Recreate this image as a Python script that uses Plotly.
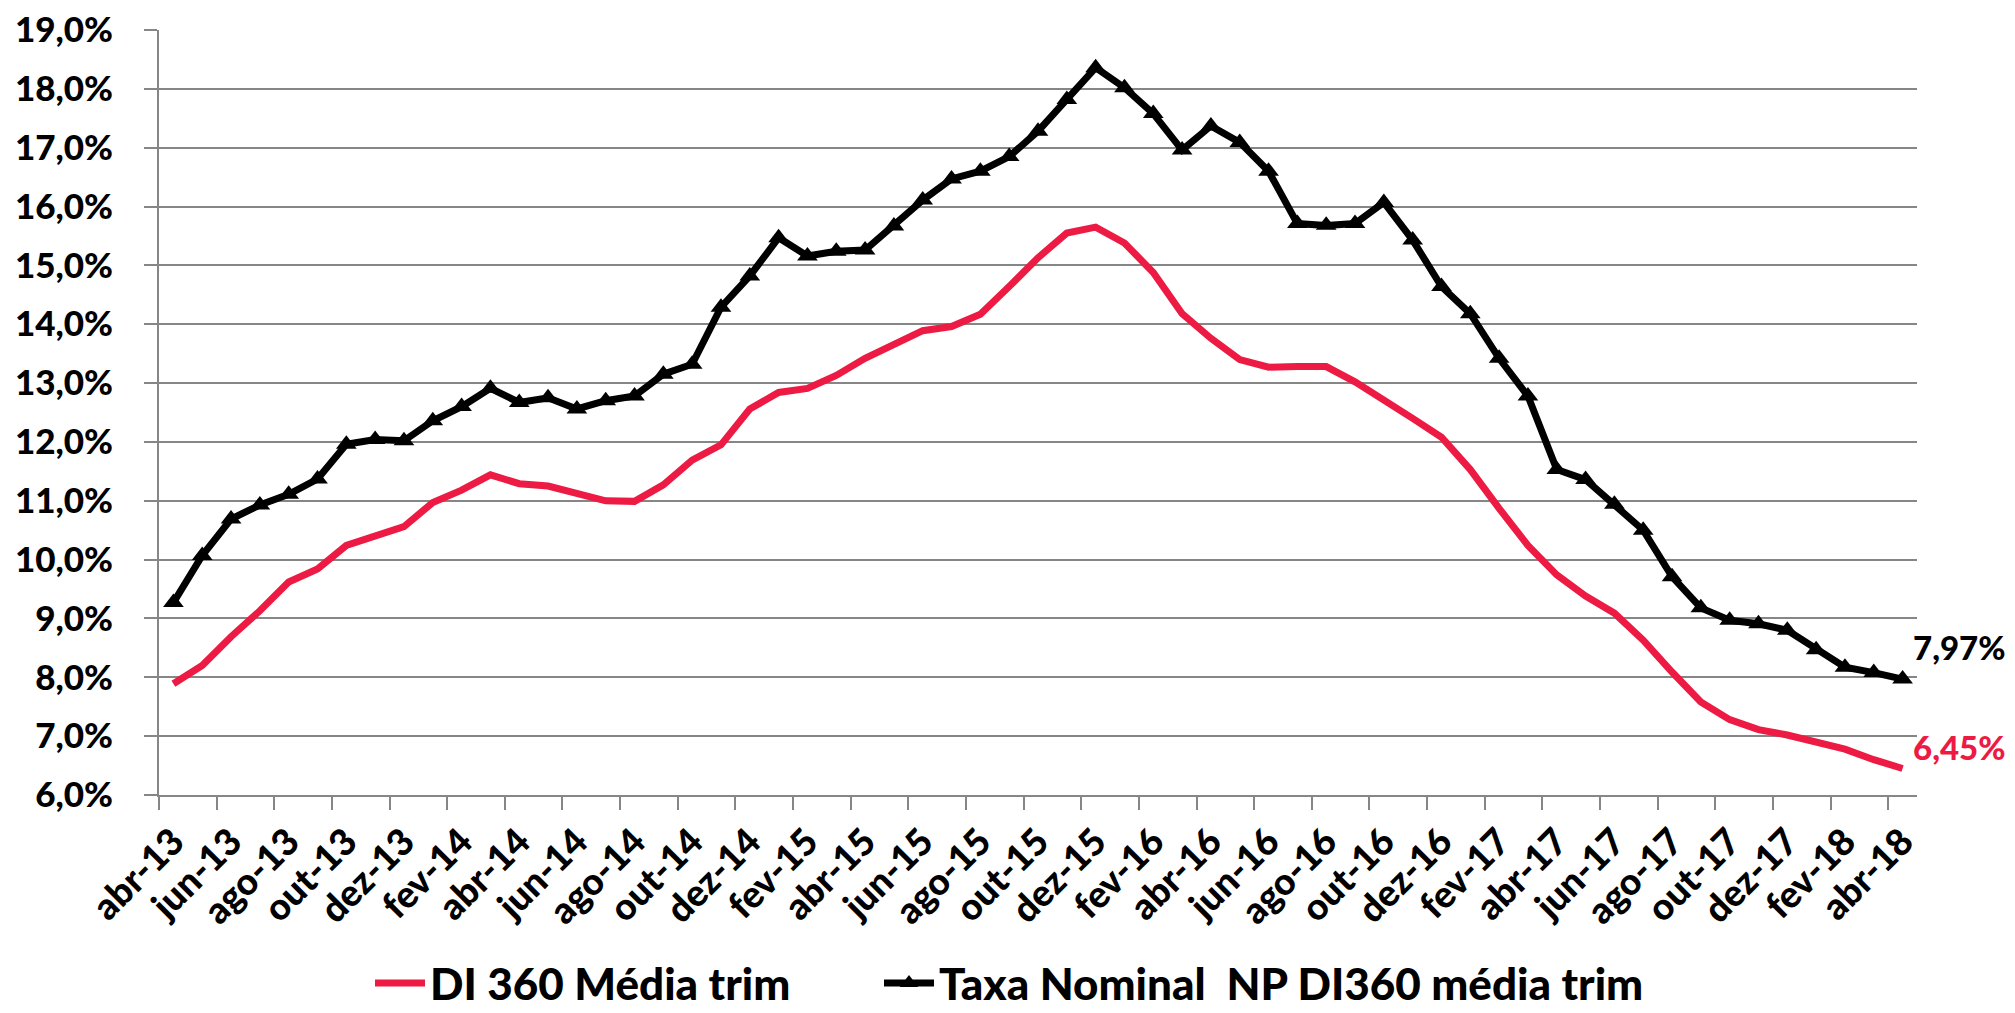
import plotly.graph_objects as go

# monthly labels abr-13 .. abr-18
meses = ['jan', 'fev', 'mar', 'abr', 'mai', 'jun', 'jul', 'ago', 'set', 'out', 'nov', 'dez']
months = []
for ano in range(13, 19):
    for i, m in enumerate(meses):
        if (ano == 13 and i < 3) or (ano == 18 and i > 3):
            continue
        months.append('%s-%d' % (m, ano))

di360 = [7.89, 8.20, 8.69, 9.13, 9.62, 9.84, 10.24, 10.40, 10.56, 10.97,
         11.18, 11.44, 11.29, 11.25, 11.11, 11.00, 10.99, 11.27, 11.69, 11.95,
         12.56, 12.84, 12.91, 13.13, 13.42, 13.64, 13.89, 13.96, 14.17, 14.64,
         15.13, 15.55, 15.65, 15.38, 14.88, 14.18, 13.76, 13.40, 13.27, 13.28,
         13.28, 13.02, 12.72, 12.40, 12.08, 11.53, 10.87, 10.24, 9.74, 9.38,
         9.09, 8.63, 8.09, 7.58, 7.28, 7.11, 7.02, 6.91, 6.78, 6.60,
         6.45]

taxa_np = [9.27, 10.07, 10.69, 10.93, 11.11, 11.37, 11.96, 12.04, 12.02, 12.36,
           12.60, 12.91, 12.67, 12.75, 12.56, 12.70, 12.78, 13.15, 13.32, 14.29,
           14.82, 15.47, 15.16, 15.24, 15.26, 15.67, 16.11, 16.47, 16.60, 16.85,
           17.28, 17.82, 18.36, 18.02, 17.58, 16.96, 17.37, 17.09, 16.60, 15.71,
           15.68, 15.71, 16.07, 15.43, 14.64, 14.18, 13.42, 12.78, 11.53, 11.36,
           10.94, 10.50, 9.71, 9.18, 8.97, 8.91, 8.80, 8.47, 8.17, 8.08,
           7.97]

RED = '#ED1A43'
FONT = 'Lato'
W = 900
x = list(range(len(months)))

fig = go.Figure()
fig.add_trace(go.Scatter(x=x, y=di360, mode='lines', name='DI 360 Média trim',
                         line=dict(color=RED, width=7), legend='legend'))
fig.add_trace(go.Scatter(x=x, y=taxa_np, mode='lines+markers', name='Taxa Nominal  NP DI360 média trim',
                         line=dict(color='black', width=7),
                         marker=dict(symbol='triangle-up', size=18, color='black'),
                         legend='legend2'))

# end labels
fig.add_annotation(x=x[-1], y=taxa_np[-1], text=('%.2f%%' % taxa_np[-1]).replace('.', ','),
                   showarrow=False, xanchor='left', xshift=8, yshift=32,
                   font=dict(family=FONT, size=33, color='black', weight=W))
fig.add_annotation(x=x[-1], y=di360[-1], text=('%.2f%%' % di360[-1]).replace('.', ','),
                   showarrow=False, xanchor='left', xshift=8, yshift=22,
                   font=dict(family=FONT, size=33, color=RED, weight=W))

legend_font = dict(family=FONT, size=44, color='black', weight=W)
fig.update_layout(
    width=2015, height=1013,
    margin=dict(l=151, r=106, t=22, b=226),
    paper_bgcolor='white', plot_bgcolor='white',
    separators=',.',
    font=dict(family=FONT, color='black', weight=W),
    legend=dict(orientation='h', xref='container', yref='container', x=362 / 2015, y=0.037,
                xanchor='left', yanchor='middle', font=legend_font, itemwidth=50),
    legend2=dict(orientation='h', xref='container', yref='container', x=871 / 2015, y=0.037,
                 xanchor='left', yanchor='middle', font=legend_font, itemwidth=50),
    showlegend=True,
)
fig.update_xaxes(range=[-0.5, len(months) - 0.5], tickvals=x[::2], ticktext=months[::2],
                 tickangle=-45, ticks='', showgrid=False, zeroline=False, automargin=False,
                 showline=True, linecolor='#868686', linewidth=2,
                 ticklabelstandoff=8, ticklabeloverflow='allow',
                 tickfont=dict(family=FONT, size=37, color='black', weight=W),
                 minor=dict(tick0=-0.5, dtick=2, ticks='outside', ticklen=13,
                            tickcolor='#868686', tickwidth=2, showgrid=False))
fig.update_yaxes(range=[6, 19], dtick=1, tickformat='.1f', ticksuffix='%', automargin=False,
                 showgrid=True, gridcolor='#868686', gridwidth=2, zeroline=False,
                 showline=True, linecolor='#868686', linewidth=2,
                 ticks='outside', ticklen=13, tickcolor='#868686', tickwidth=2,
                 ticklabelstandoff=24, ticklabeloverflow='allow',
                 tickfont=dict(family=FONT, size=35, color='black', weight=W))

fig.write_html('out.html')
